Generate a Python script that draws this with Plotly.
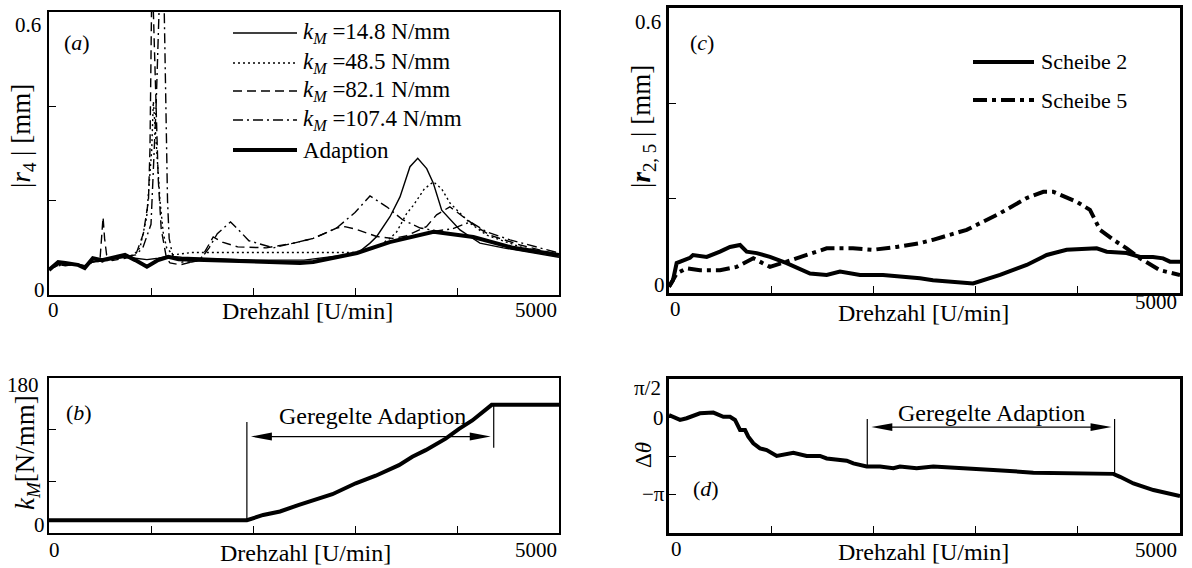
import numpy as np
import plotly.graph_objects as go

# ---------------- canvas -------------------
W, H = 1192, 568
FONT = "Liberation Serif, DejaVu Serif, Times New Roman, serif"

# ---------------- panel (a): |r4| for fixed stiffness and adaption -------------------
RPM_14 = [0, 90, 160, 280, 350, 430, 520, 620, 745, 845, 960, 1070, 1170, 1300, 1600, 2000, 2500, 3020,
          3147, 3213, 3343, 3441, 3539, 3615, 3703, 3768, 3850, 4029, 4127, 4225, 4454, 5000]
R4_14 = [0.055, 0.065, 0.062, 0.066, 0.062, 0.070, 0.072, 0.075, 0.080, 0.078, 0.075, 0.078, 0.082, 0.080,
         0.078, 0.074, 0.074, 0.088, 0.110, 0.124, 0.166, 0.208, 0.272, 0.290, 0.268, 0.237, 0.180, 0.138,
         0.124, 0.110, 0.100, 0.080]

RPM_48 = [0, 90, 160, 280, 350, 430, 520, 620, 745, 830, 892, 958, 1007, 1023, 1056, 1088, 1121, 1154, 1216,
          1400, 2000, 2500, 3017, 3200, 3343, 3409, 3507, 3572, 3680, 3770, 3850, 3931, 4130, 4290, 4620, 5000]
R4_48 = [0.057, 0.062, 0.065, 0.063, 0.060, 0.072, 0.070, 0.076, 0.082, 0.085, 0.100, 0.166, 0.307, 0.410,
         0.307, 0.200, 0.130, 0.100, 0.085, 0.090, 0.090, 0.090, 0.090, 0.100, 0.120, 0.134, 0.173, 0.190,
         0.225, 0.240, 0.225, 0.195, 0.152, 0.127, 0.102, 0.083]

RPM_82 = [0, 90, 160, 280, 350, 430, 500, 530, 545, 565, 620, 745, 850, 925, 975, 990, 1010, 1040, 1070, 1100,
          1150, 1186, 1284, 1480, 1580, 1610, 1700, 1850, 2130, 2400, 2590, 2820, 2900, 3000, 3213, 3370, 3500,
          3700, 3800, 3930, 4060, 4190, 4320, 4620, 5000]
R4_82 = [0.055, 0.064, 0.063, 0.065, 0.060, 0.070, 0.075, 0.165, 0.120, 0.085, 0.073, 0.078, 0.085, 0.130,
         0.200, 0.310, 0.700, 0.450, 0.250, 0.140, 0.080, 0.068, 0.064, 0.074, 0.110, 0.123, 0.112, 0.102,
         0.100, 0.110, 0.120, 0.142, 0.145, 0.140, 0.124, 0.120, 0.125, 0.145, 0.170, 0.187, 0.166, 0.145,
         0.127, 0.106, 0.085]

RPM_107 = [0, 90, 160, 280, 350, 430, 520, 620, 745, 850, 920, 1000, 1050, 1080, 1100, 1130, 1150, 1162, 1178,
           1216, 1300, 1400, 1480, 1570, 1650, 1780, 1850, 1960, 2200, 2590, 2820, 3000, 3147, 3311, 3470, 3640,
           3800, 3950, 4130, 4290, 4520, 5000]
R4_107 = [0.055, 0.063, 0.064, 0.066, 0.061, 0.071, 0.073, 0.077, 0.082, 0.085, 0.100, 0.150, 0.400, 0.650,
          0.750, 0.600, 0.350, 0.200, 0.120, 0.080, 0.070, 0.070, 0.074, 0.100, 0.130, 0.155, 0.140, 0.115,
          0.100, 0.120, 0.142, 0.175, 0.210, 0.187, 0.159, 0.142, 0.136, 0.140, 0.155, 0.134, 0.117, 0.089]

RPM_AD = [0, 90, 160, 280, 350, 430, 520, 620, 745, 845, 960, 1070, 1170, 1270, 1600, 2000, 2460, 2590, 3020,
          3340, 3770, 4160, 4550, 5000]
R4_AD = [0.053, 0.070, 0.068, 0.064, 0.057, 0.078, 0.074, 0.078, 0.085, 0.074, 0.060, 0.074, 0.081, 0.076,
         0.074, 0.070, 0.068, 0.070, 0.089, 0.112, 0.134, 0.123, 0.100, 0.085]

KM_LABELS = ["14.8", "48.5", "82.1", "107.4"]

# ---------------- panel (b): adapted stiffness -------------------
RPM_K = [0, 1940, 2100, 2265, 2451, 2778, 3007, 3203, 3431, 3562, 3693, 3889, 4020, 4150, 4340, 5000]
K_M = [14.8, 14.8, 21.0, 25.0, 32.7, 45.0, 57.7, 66.5, 78.8, 88.5, 96.2, 109.6, 121.0, 130.7, 148.8, 148.8]

# ---------------- panel (c): discs 2 and 5 -------------------
RPM_S2 = [0, 39, 75, 137, 205, 235, 369, 499, 597, 695, 760, 858, 988, 1151, 1380, 1543, 1673, 1869, 2094,
          2456, 2583, 2975, 3239, 3500, 3696, 3891, 4185, 4283, 4478, 4609, 4736, 4834, 4902, 5000]
R_S2 = [0.013, 0.027, 0.063, 0.069, 0.074, 0.080, 0.076, 0.087, 0.097, 0.101, 0.087, 0.084, 0.076, 0.063,
        0.041, 0.038, 0.045, 0.038, 0.038, 0.031, 0.027, 0.020, 0.038, 0.059, 0.080, 0.091, 0.094, 0.087,
        0.084, 0.076, 0.076, 0.073, 0.066, 0.066]

RPM_S5 = [0, 75, 173, 303, 499, 662, 825, 988, 1151, 1347, 1543, 1800, 1996, 2228, 2456, 2583, 2913, 3239,
          3500, 3663, 3761, 3990, 4119, 4217, 4348, 4478, 4609, 4804, 5000]
R_S5 = [0.013, 0.041, 0.052, 0.048, 0.048, 0.055, 0.073, 0.055, 0.066, 0.080, 0.094, 0.094, 0.091, 0.097,
        0.105, 0.112, 0.133, 0.168, 0.200, 0.213, 0.213, 0.192, 0.175, 0.133, 0.112, 0.094, 0.073, 0.048, 0.038]

# ---------------- panel (d): phase difference -------------------
RPM_TH = [0, 108, 173, 303, 434, 499, 532, 597, 646, 695, 744, 776, 825, 890, 956, 1054, 1217, 1347, 1477,
          1543, 1641, 1739, 1804, 1934, 2065, 2195, 2260, 2423, 2586, 2913, 3173, 3565, 3891, 4348, 4413,
          4544, 4740, 4870, 5000]
D_TH = [0.10, -0.10, -0.03, 0.17, 0.20, 0.10, 0.03, 0.03, -0.10, -0.51, -0.51, -0.78, -1.05, -1.26, -1.33,
        -1.57, -1.44, -1.57, -1.57, -1.67, -1.71, -1.76, -1.87, -2.00, -2.00, -2.07, -2.00, -2.07, -2.00,
        -2.10, -2.14, -2.25, -2.28, -2.30, -2.42, -2.69, -2.96, -3.09, -3.20]

# controlled adaption window [U/min]
ADAPT_START, ADAPT_END = 1940, 4360

# dash patterns
DOT = "2px,3px"
DASH = "9px,5px"
DASHDOT = "10px,4px,2px,4px"
DASHDOT_THICK = "14px,5px,4px,5px"
THIN, THICK = 1.4, 4

# text sizes
TICK_FS, TITLE_FS, YTITLE_FS, LEG_FS = 21, 24, 27, 23


def px(x):
    return x / W


def py(y):
    return 1 - y / H


def curve(x, y, xa, ya, width, dash="solid"):
    return go.Scatter(x=x, y=y, mode="lines", xaxis=xa, yaxis=ya, showlegend=False, hoverinfo="skip",
                      line=dict(color="black", width=width, dash=dash))


fig = go.Figure()

# (a)
fig.add_trace(curve(RPM_14, R4_14, "x", "y", THIN))
fig.add_trace(curve(RPM_48, R4_48, "x", "y", THIN, DOT))
fig.add_trace(curve(RPM_82, R4_82, "x", "y", THIN, DASH))
fig.add_trace(curve(RPM_107, R4_107, "x", "y", THIN, DASHDOT))
fig.add_trace(curve(RPM_AD, R4_AD, "x", "y", THICK))
# (b)
fig.add_trace(curve(RPM_K, K_M, "x2", "y2", THICK))
# (c)
fig.add_trace(curve(RPM_S2, R_S2, "x3", "y3", THICK))
fig.add_trace(curve(RPM_S5, R_S5, "x3", "y3", THICK, DASHDOT_THICK))
# (d)
fig.add_trace(curve(RPM_TH, D_TH, "x4", "y4", THICK))


def x_axis(left, right, anchor, lw):
    return dict(domain=[px(left), px(right)], range=[0, 5000], anchor=anchor,
                tickvals=[1000, 2000, 3000, 4000], ticks="inside", ticklen=7, tickwidth=1.3,
                tickcolor="black", showticklabels=False, showline=True, mirror=True,
                linecolor="black", linewidth=lw, showgrid=False, zeroline=False)


def y_axis(top, bottom, anchor, rng, tickvals, lw):
    return dict(domain=[py(bottom), py(top)], range=rng, anchor=anchor,
                tickvals=tickvals, ticks="inside", ticklen=7, tickwidth=1.3,
                tickcolor="black", showticklabels=False, showline=True, mirror=True,
                linecolor="black", linewidth=lw, showgrid=False, zeroline=False)


# ---------------- annotations -------------------
notes = []


def note(text, x, y, xanchor="center", size=TICK_FS, angle=0, xref="paper", yref="paper"):
    if xref == "paper":
        x, y = px(x), py(y)
    notes.append(dict(text=text, x=x, y=y, xref=xref, yref=yref, xanchor=xanchor, yanchor="middle",
                      showarrow=False, textangle=angle, font=dict(family=FONT, size=size, color="black")))


# tick labels
note("0.6", 43, 25, "right"); note("0", 47, 290, "right")
note("0", 53, 310); note("5000", 559, 310, "right")
note("180", 41, 385, "right"); note("0", 47, 525, "right")
note("0", 54, 550); note("5000", 559, 550, "right")
note("0.6", 663, 22, "right"); note("0", 667, 285, "right")
note("0", 675, 309); note("5000", 1179, 302, "right")
note("π/2", 663, 388, "right"); note("0", 666, 418, "right"); note("−π", 667, 494, "right")
note("0", 676, 549); note("5000", 1179, 550, "right")

# axis titles
for xc, yc in [(307, 311), (305, 553), (923, 313), (923, 552)]:
    note("Drehzahl [U/min]", xc, yc, size=TITLE_FS)
note("|<i>r</i><sub>4</sub> | [mm]", 23, 136, size=YTITLE_FS, angle=-90)
note("<i>k</i><sub><i>M</i></sub>[N/mm]", 27, 453, size=YTITLE_FS, angle=-90)
note("|<b><i>r</i></b><sub>2, 5</sub> | [mm]", 643, 127, size=YTITLE_FS, angle=-90)
note("Δ<i>θ</i>", 643, 455, size=23, angle=-90)

# panel letters
note("(<i>a</i>)", 77, 43, size=22)
note("(<i>b</i>)", 79, 412, size=22)
note("(<i>c</i>)", 702, 43, size=22)
note("(<i>d</i>)", 706, 488, size=22)

# adaption window labels
note("Geregelte Adaption", 3170, 136, size=TITLE_FS, xref="x2", yref="y2")
note("Geregelte Adaption", 3160, 0.18, size=TITLE_FS, xref="x4", yref="y4")

# ---------------- legends (drawn as samples + text) -------------------
shapes = []
legend_a = [(f"<i>k</i><sub><i>M</i></sub> ={v} N/mm", d, THIN) for v, d in zip(KM_LABELS, ["solid", DOT, DASH, DASHDOT])]
legend_a.append(("Adaption", "solid", THICK))
for (label, dash, width), yrow in zip(legend_a, [33, 63, 91, 120, 150]):
    shapes.append(dict(type="line", xref="paper", yref="paper", x0=px(233), x1=px(297), y0=py(yrow), y1=py(yrow),
                       line=dict(color="black", width=width, dash=dash)))
    note(label, 301, yrow, "left", size=LEG_FS)

for (label, dash), yrow in zip([("Scheibe 2", "solid"), ("Scheibe 5", DASHDOT_THICK)], [62, 100]):
    shapes.append(dict(type="line", xref="paper", yref="paper", x0=px(973), x1=px(1034), y0=py(yrow), y1=py(yrow),
                       line=dict(color="black", width=THICK, dash=dash)))
    note(label, 1039, yrow, "left", size=22)


# ---------------- adaption window markers -------------------
def window(xa, ya, left_span, right_span, y_arrow, head_h):
    head_l = 205
    thin = dict(color="black", width=1.2)
    out = [
        dict(type="line", xref=xa, yref=ya, x0=ADAPT_START, x1=ADAPT_START, y0=left_span[0], y1=left_span[1], line=thin),
        dict(type="line", xref=xa, yref=ya, x0=ADAPT_END, x1=ADAPT_END, y0=right_span[0], y1=right_span[1], line=thin),
        dict(type="line", xref=xa, yref=ya, x0=ADAPT_START + head_l, x1=ADAPT_END - head_l, y0=y_arrow, y1=y_arrow, line=thin),
    ]
    x0, x1 = ADAPT_START + 40, ADAPT_END - 30
    out.append(dict(type="path", xref=xa, yref=ya, fillcolor="black", line=dict(width=0),
                    path=f"M {x0},{y_arrow} L {x0 + head_l},{y_arrow + head_h} L {x0 + head_l},{y_arrow - head_h} Z"))
    out.append(dict(type="path", xref=xa, yref=ya, fillcolor="black", line=dict(width=0),
                    path=f"M {x1},{y_arrow} L {x1 - head_l},{y_arrow + head_h} L {x1 - head_l},{y_arrow - head_h} Z"))
    return out


shapes += window("x2", "y2", (14.8, 129), (99, 149), 112, 4.6)
shapes += window("x4", "y4", (-0.06, -1.97), (-0.06, -2.30), -0.39, 0.16)

fig.update_layout(
    width=W, height=H, autosize=False,
    margin=dict(l=0, r=0, t=0, b=0),
    paper_bgcolor="white", plot_bgcolor="white",
    font=dict(family=FONT, size=20, color="black"),
    showlegend=False,
    xaxis=x_axis(49, 559, "y", 2),
    yaxis=y_axis(12, 295, "x", [0, 0.6], [0.2, 0.4], 2),
    xaxis2=x_axis(49, 559, "y2", 2),
    yaxis2=y_axis(378, 533, "x2", [0, 180], [60, 120], 2),
    xaxis3=x_axis(669, 1180, "y3", 3),
    yaxis3=y_axis(8, 293, "x3", [0, 0.6], [0.2, 0.4], 3),
    xaxis4=x_axis(669, 1180, "y4", 3),
    yaxis4=y_axis(379, 533, "x4", [-1.5 * np.pi, 0.5 * np.pi], [0, -0.5 * np.pi, -np.pi], 3),
    annotations=notes,
    shapes=shapes,
)

# the page's default body margin would shift the 1192x568 figure; remove it
fig.write_html("out.html", config={"displayModeBar": False},
               post_script="document.body.style.margin='0px';document.body.style.overflow='hidden';")
